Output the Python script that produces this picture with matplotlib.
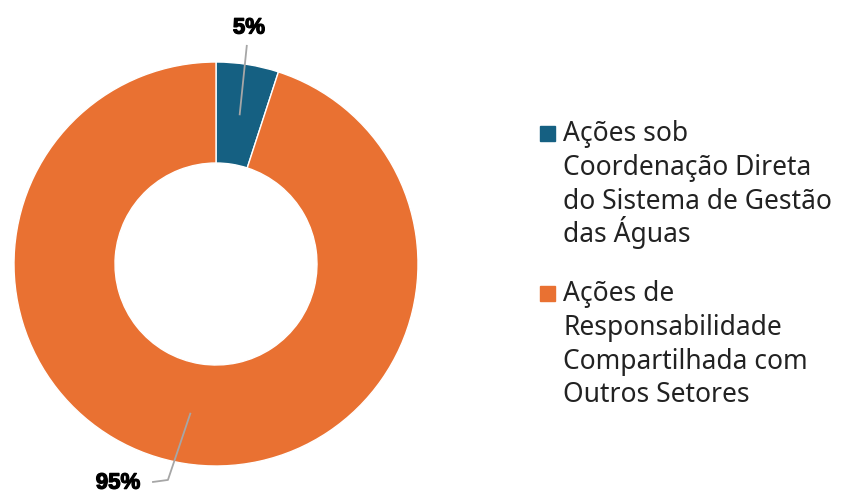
import matplotlib
matplotlib.use("Agg")
import matplotlib.pyplot as plt
import matplotlib.patheffects as pe
from matplotlib.patches import Rectangle
import numpy as np

categories = [
    "Ações sob\nCoordenação Direta\ndo Sistema de Gestão\ndas Águas",
    "Ações de\nResponsabilidade\nCompartilhada com\nOutros Setores",
]
values = [5, 95]
pct_labels = ["5%", "95%"]
colors = ["#156082", "#E97132"]

W, H = 842, 495
fig = plt.figure(figsize=(W / 100, H / 100), dpi=100)

cx, cy, R = 216, 264, 202
ax = fig.add_axes([(cx - R) / W, (H - cy - R) / H, 2 * R / W, 2 * R / H])
wedges, _ = ax.pie(values, colors=colors, startangle=90, counterclock=False,
                   radius=1, wedgeprops=dict(width=0.5, edgecolor="white", linewidth=1))
ax.set_xlim(-1, 1)
ax.set_ylim(-1, 1)
ax.set_aspect("equal")
ax.axis("off")

# data labels with leader lines
total = sum(values)
start = 90.0
lab_kw = dict(ha="center", va="center", fontsize=16, fontweight="bold",
              family="Liberation Sans", clip_on=False,
              path_effects=[pe.withStroke(linewidth=0.9, foreground="black")])
for v, lab in zip(values, pct_labels):
    mid = np.deg2rad(start - 360 * v / total / 2)
    start -= 360 * v / total
    px, py = 0.75 * np.cos(mid), 0.75 * np.sin(mid)
    if py > 0:
        ax.plot([px, px + 0.035], [py, 1.08], color="#A6A6A6", lw=1.3, clip_on=False)
        ax.text(0.163, 1.168, lab, **lab_kw)
    else:
        ax.plot([px - 0.01, -0.238, -0.312], [py, -1.069, -1.079], color="#A6A6A6",
                lw=1.3, clip_on=False)
        ax.text(-0.485, -1.085, lab, **lab_kw)

# legend drawn manually (one text per line at explicit baselines)
fs = 19
lx_box, lx_text = 540, 563
first_baselines = [141, 301]
step = 33.8
for cat, col, b0 in zip(categories, colors, first_baselines):
    fig.patches.append(Rectangle((lx_box / W, (H - b0) / H), 15 / W, 15 / H,
                                 transform=fig.transFigure, color=col))
    for i, line in enumerate(cat.split("\n")):
        fig.text(lx_text / W, (H - b0 - i * step) / H, line, ha="left", va="baseline",
                 fontsize=fs, family="Noto Sans", color="#222222")

fig.savefig("out.png", dpi=100)
